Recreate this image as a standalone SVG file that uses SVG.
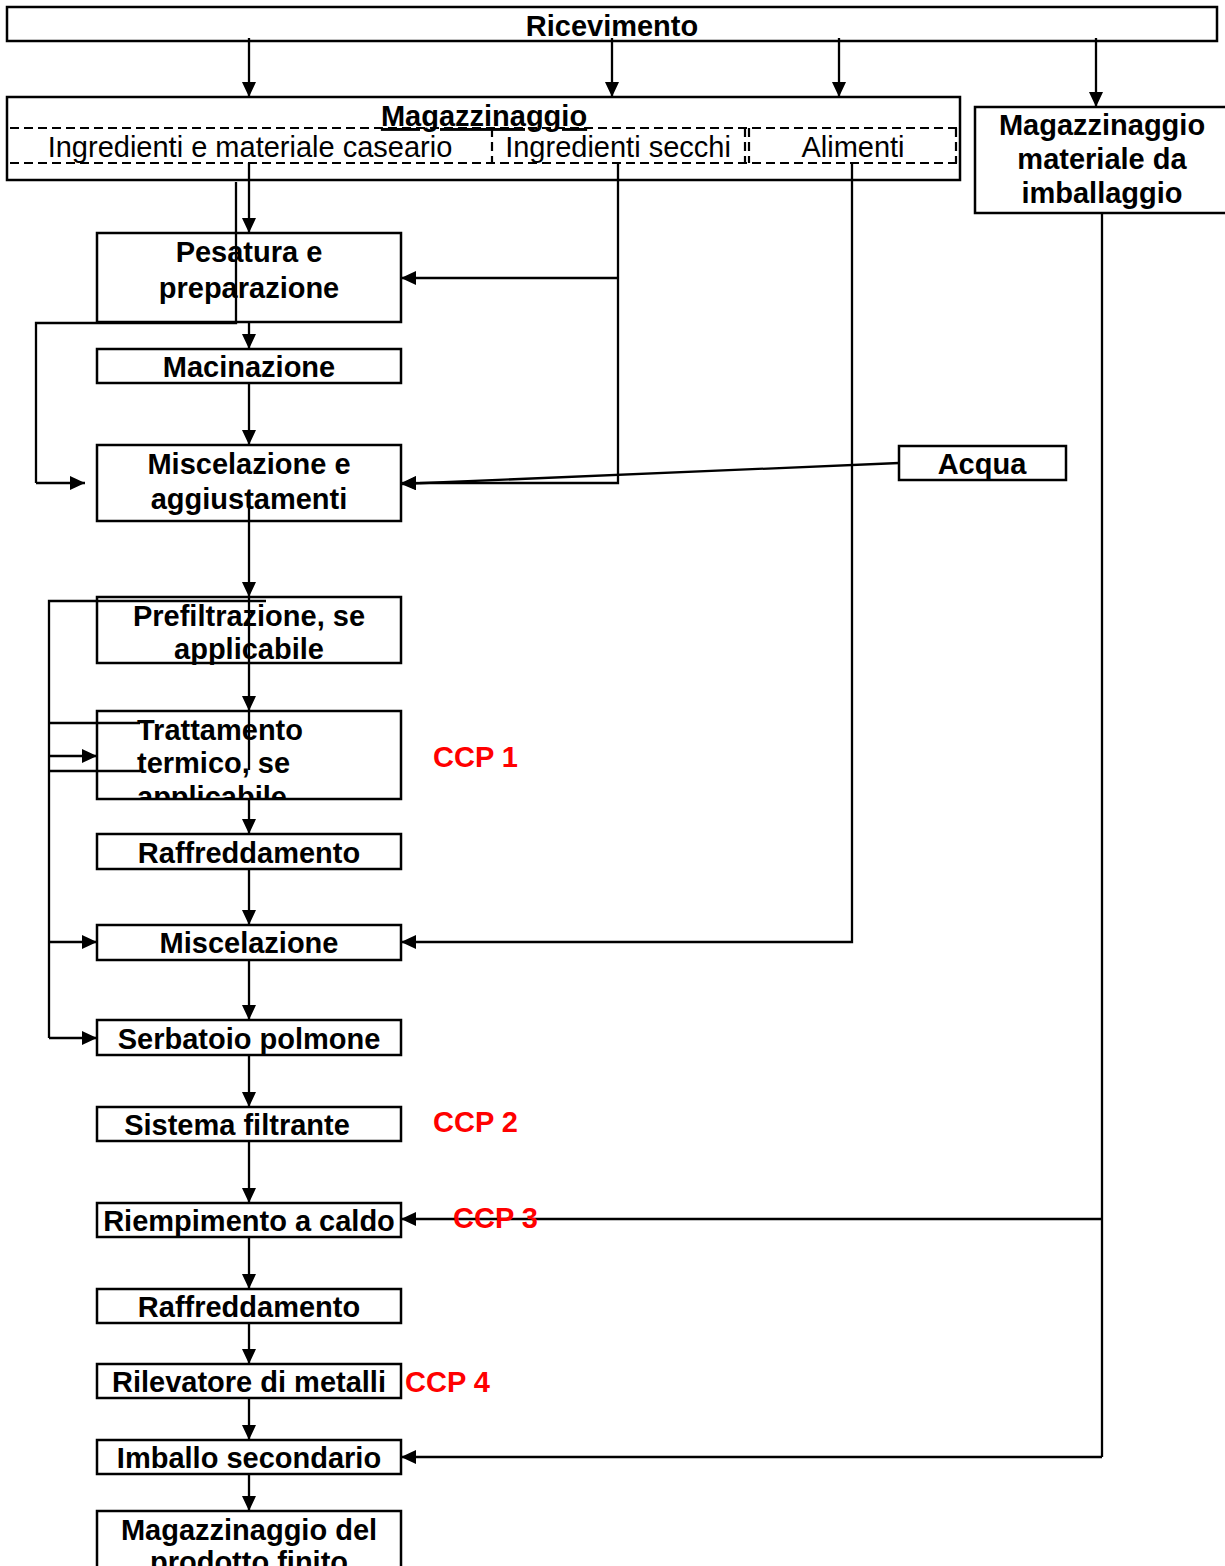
<svg xmlns="http://www.w3.org/2000/svg" width="1225" height="1566" viewBox="0 0 1225 1566">
<style>
.box{fill:#fff;stroke:#000;stroke-width:2.5}
.dash{fill:none;stroke:#000;stroke-width:2.2;stroke-dasharray:9 5}
.ln{fill:none;stroke:#000;stroke-width:2.3}
.arr{fill:none;stroke:#000;stroke-width:2.3;marker-end:url(#ah)}
.t{font-family:"Liberation Sans",Arial,sans-serif;font-size:29px;font-weight:bold;fill:#000;text-anchor:middle}
.r{font-family:"Liberation Sans",Arial,sans-serif;font-size:29px;fill:#000;text-anchor:middle}
.ccp{font-family:"Liberation Sans",Arial,sans-serif;font-size:29px;font-weight:bold;fill:#ff0000}
</style>
<defs>
<marker id="ah" markerUnits="userSpaceOnUse" markerWidth="16" markerHeight="16" refX="15" refY="7" orient="auto">
<path d="M0,0 L15,7 L0,14 z" fill="#000"/>
</marker>
<clipPath id="ctt"><rect x="97" y="711" width="304" height="88"/></clipPath>
</defs>
<rect width="1225" height="1566" fill="#fff"/>

<g id="ricevimento">
<rect class="box" x="7" y="7" width="1210" height="34"/>
<text class="t" x="612" y="36">Ricevimento</text>
</g>

<g id="magazzinaggio">
<rect class="box" x="7" y="97" width="953" height="83"/>
<text class="t" x="484" y="126" text-decoration="underline">Magazzinaggio</text>
<line class="dash" x1="10" y1="128" x2="957" y2="128"/>
<line class="dash" x1="10" y1="163" x2="957" y2="163"/>
<line class="dash" x1="492" y1="128" x2="492" y2="163"/>
<line class="dash" x1="745" y1="128" x2="745" y2="163"/>
<line class="dash" x1="749" y1="128" x2="749" y2="163"/>
<line class="dash" x1="956" y1="128" x2="956" y2="163"/>
<text class="r" x="250" y="157">Ingredienti e materiale caseario</text>
<text class="r" x="618" y="157">Ingredienti secchi</text>
<text class="r" x="853" y="157">Alimenti</text>
</g>

<g id="mag-imballaggio">
<rect class="box" x="975" y="107" width="260" height="106"/>
<text class="t" x="1102" y="135">Magazzinaggio</text>
<text class="t" x="1102" y="169">materiale da</text>
<text class="t" x="1102" y="203">imballaggio</text>
</g>

<g id="pesatura">
<rect class="box" x="97" y="233" width="304" height="89"/>
<text class="t" x="249" y="262">Pesatura e</text>
<text class="t" x="249" y="298">preparazione</text>
</g>

<g id="macinazione">
<rect class="box" x="97" y="349" width="304" height="34"/>
<text class="t" x="249" y="377">Macinazione</text>
</g>

<g id="miscelazione-agg">
<rect class="box" x="97" y="445" width="304" height="76"/>
<text class="t" x="249" y="474">Miscelazione e</text>
<text class="t" x="249" y="509">aggiustamenti</text>
</g>

<g id="acqua">
<rect class="box" x="899" y="446" width="167" height="34"/>
<text class="t" x="982" y="474">Acqua</text>
</g>

<g id="prefiltrazione">
<rect class="box" x="97" y="597" width="304" height="66"/>
<text class="t" x="249" y="626">Prefiltrazione, se</text>
<text class="t" x="249" y="659">applicabile</text>
</g>

<g id="trattamento">
<rect class="box" x="97" y="711" width="304" height="88"/>
<g clip-path="url(#ctt)">
<text class="t" x="137" y="740" style="text-anchor:start">Trattamento</text>
<text class="t" x="137" y="773" style="text-anchor:start">termico, se</text>
<text class="t" x="137" y="807" style="text-anchor:start">applicabile</text>
</g>
<text class="ccp" x="433" y="767">CCP 1</text>
</g>

<g id="raffreddamento1">
<rect class="box" x="97" y="834" width="304" height="35"/>
<text class="t" x="249" y="863">Raffreddamento</text>
</g>

<g id="miscelazione">
<rect class="box" x="97" y="925" width="304" height="35"/>
<text class="t" x="249" y="953">Miscelazione</text>
</g>

<g id="serbatoio">
<rect class="box" x="97" y="1020" width="304" height="35"/>
<text class="t" x="249" y="1049">Serbatoio polmone</text>
</g>

<g id="sistema-filtrante">
<rect class="box" x="97" y="1107" width="304" height="34"/>
<text class="t" x="237" y="1135">Sistema filtrante</text>
<text class="ccp" x="433" y="1132">CCP 2</text>
</g>

<g id="riempimento">
<rect class="box" x="97" y="1203" width="304" height="34"/>
<text class="t" x="249" y="1231">Riempimento a caldo</text>
</g>

<g id="raffreddamento2">
<rect class="box" x="97" y="1289" width="304" height="34"/>
<text class="t" x="249" y="1317">Raffreddamento</text>
</g>

<g id="rilevatore">
<rect class="box" x="97" y="1364" width="304" height="34"/>
<text class="t" x="249" y="1392">Rilevatore di metalli</text>
<text class="ccp" x="405" y="1392">CCP 4</text>
</g>

<g id="imballo">
<rect class="box" x="97" y="1440" width="304" height="34"/>
<text class="t" x="249" y="1468">Imballo secondario</text>
</g>

<g id="magazzinaggio-finito">
<rect class="box" x="97" y="1511" width="304" height="60"/>
<text class="t" x="249" y="1540">Magazzinaggio del</text>
<text class="t" x="249" y="1572">prodotto finito</text>
</g>

<g id="connectors">
<path class="arr" d="M249,38 V97"/>
<path class="arr" d="M612,38 V97"/>
<path class="arr" d="M839,38 V97"/>
<path class="arr" d="M1096,38 V107"/>
<path class="arr" d="M249,163 V233"/>
<path class="ln" d="M236,182 V323 H36 V483"/>
<path class="arr" d="M36,483 H85"/>
<path class="ln" d="M618,163 V483 H420"/>
<path class="arr" d="M618,278 H401"/>
<path class="arr" d="M899,463 L401,484"/>
<path class="arr" d="M420,483 H401"/>
<path class="arr" d="M249,322 V349"/>
<path class="arr" d="M249,383 V445"/>
<path class="arr" d="M249,497 V597"/>
<path class="arr" d="M249,597 V711"/>
<path class="ln" d="M249,711 V770"/>
<path class="arr" d="M249,799 V834"/>
<path class="arr" d="M249,869 V925"/>
<path class="arr" d="M249,960 V1020"/>
<path class="arr" d="M249,1055 V1107"/>
<path class="arr" d="M249,1141 V1203"/>
<path class="arr" d="M249,1237 V1289"/>
<path class="arr" d="M249,1323 V1364"/>
<path class="arr" d="M249,1398 V1440"/>
<path class="arr" d="M249,1474 V1511"/>
<path class="arr" d="M852,163 V942 H401"/>
<path class="ln" d="M266,601 H49 V1038"/>
<path class="ln" d="M49,723 H140"/>
<path class="ln" d="M49,771 H140"/>
<path class="arr" d="M49,756 H97"/>
<path class="arr" d="M49,942 H97"/>
<path class="arr" d="M49,1038 H97"/>
<path class="ln" d="M1102,213 V1457"/>
<path class="arr" d="M1102,1219 H401"/>
<path class="arr" d="M1102,1457 H401"/>
</g>
<text class="ccp" x="453" y="1228">CCP 3</text>
</svg>
